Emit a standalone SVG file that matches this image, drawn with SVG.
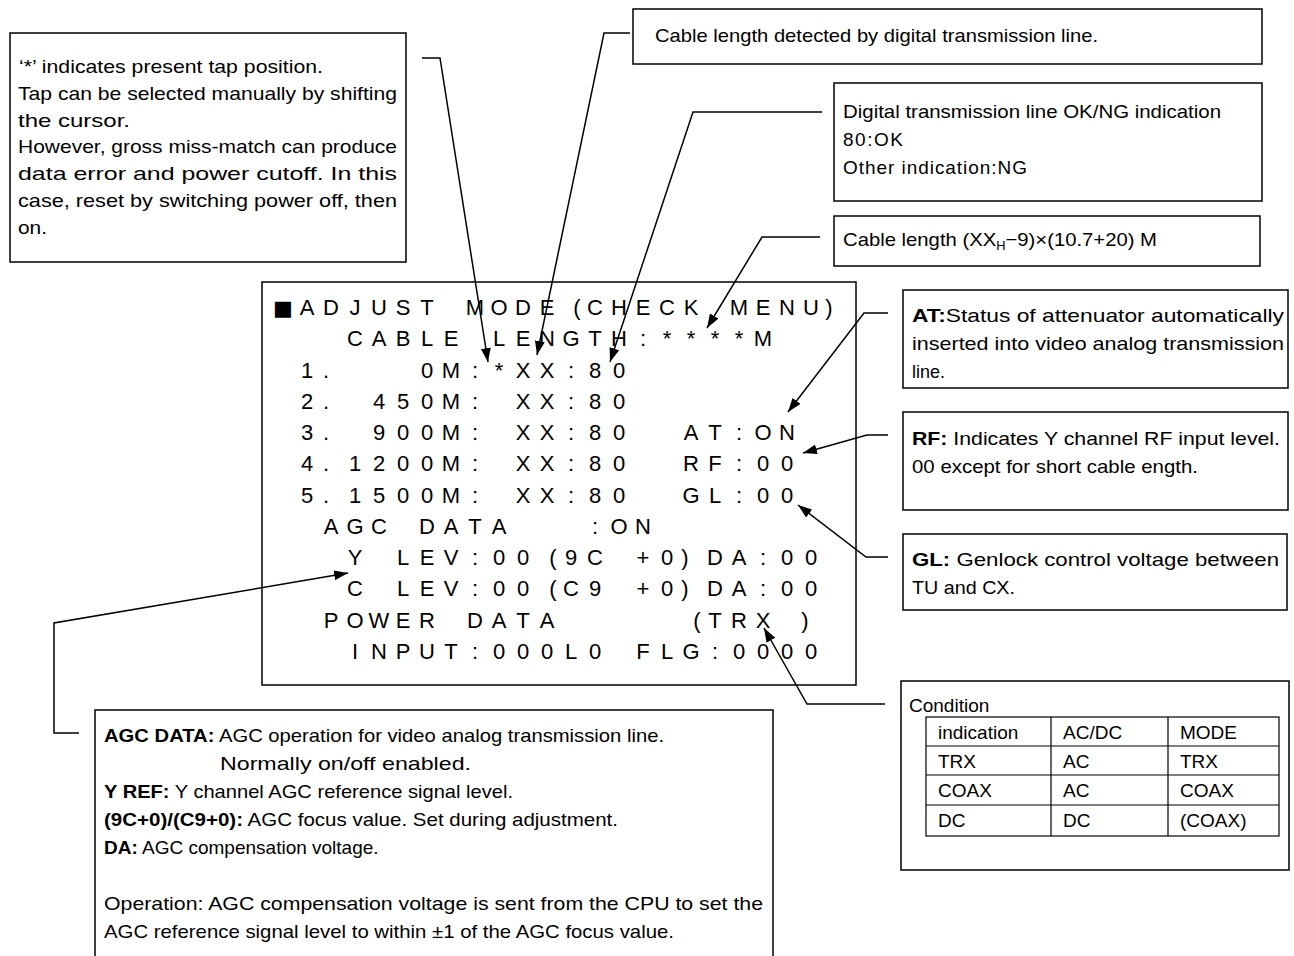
<svg xmlns="http://www.w3.org/2000/svg" width="1294" height="956" viewBox="0 0 1294 956">
<style>
.box{fill:none;stroke:#000;stroke-width:1.5}
.t{font-family:"Liberation Sans",Arial,"Noto Sans CJK JP",sans-serif;font-size:19px;fill:#000}
.b{font-weight:bold}
.scr{font-family:"Liberation Sans",Arial,sans-serif;font-size:22px;fill:#000;text-anchor:middle}
.sq{font-family:"DejaVu Sans",sans-serif;font-size:21px;fill:#000;text-anchor:middle}
.conn{fill:none;stroke:#000;stroke-width:1.5;marker-end:url(#ah)}
</style>
<defs>
<marker id="ah" markerUnits="userSpaceOnUse" markerWidth="15" markerHeight="11" refX="14" refY="5" orient="auto">
<path d="M0,0 L14,5 L0,10 Z" fill="#000"/>
</marker>
</defs>
<rect width="1294" height="956" fill="#fff"/>

<g id="note-tap">
<rect class="box" x="10" y="33" width="396" height="229"/>
<text class="t" x="19" y="73" textLength="304" lengthAdjust="spacingAndGlyphs">‘*’ indicates present tap position.</text>
<text class="t" x="18" y="100" textLength="379" lengthAdjust="spacingAndGlyphs">Tap can be selected manually by shifting</text>
<text class="t" x="18" y="127" textLength="112" lengthAdjust="spacingAndGlyphs">the cursor.</text>
<text class="t" x="18" y="153" textLength="379" lengthAdjust="spacingAndGlyphs">However, gross miss-match can produce</text>
<text class="t" x="18" y="180" textLength="379" lengthAdjust="spacingAndGlyphs">data error and power cutoff.  In this</text>
<text class="t" x="18" y="207" textLength="379" lengthAdjust="spacingAndGlyphs">case, reset by switching power off, then</text>
<text class="t" x="18" y="234" textLength="29" lengthAdjust="spacingAndGlyphs">on.</text>
</g>

<g id="note-cable-detected">
<rect class="box" x="633" y="9" width="629" height="55"/>
<text class="t" x="655" y="42" textLength="443" lengthAdjust="spacingAndGlyphs">Cable length detected by digital transmission line.</text>
</g>

<g id="note-okng">
<rect class="box" x="834" y="83" width="428" height="118"/>
<text class="t" x="843" y="118" textLength="378" lengthAdjust="spacingAndGlyphs">Digital transmission line OK/NG indication</text>
<text class="t" x="843" y="146" textLength="60" lengthAdjust="spacing">80:OK</text>
<text class="t" x="843" y="174" textLength="184" lengthAdjust="spacing">Other indication:NG</text>
</g>

<g id="note-cable-formula">
<rect class="box" x="834" y="216" width="426" height="50"/>
<text class="t" x="843" y="246" textLength="314" lengthAdjust="spacingAndGlyphs">Cable length (XX<tspan font-size="12" dy="4">H</tspan><tspan dy="-4">−9)×(10.7+20) M</tspan></text>
</g>

<g id="screen">
<rect class="box" x="262" y="282" width="594" height="403"/>
<text class="sq" x="283" y="315">■</text>
<text class="scr" y="315" x="307 331 355 379 403 427 475 499 523 547 577 595 619 643 667 691 739 763 787 811 829">ADJUSTMODE(CHECKMENU)</text>
<text class="scr" y="346" x="355 379 403 427 451 499 523 547 571 595 619 643 667 691 715 739 763">CABLELENGTH:****M</text>
<text class="scr" y="378" x="307 326 427 451 475 499 523 547 571 595 619">1.0M:*XX:80</text>
<text class="scr" y="409" x="307 326 379 403 427 451 475 523 547 571 595 619">2.450M:XX:80</text>
<text class="scr" y="440" x="307 326 379 403 427 451 475 523 547 571 595 619 691 715 739 763 787">3.900M:XX:80AT:ON</text>
<text class="scr" y="471" x="307 326 355 379 403 427 451 475 523 547 571 595 619 691 715 739 763 787">4.1200M:XX:80RF:00</text>
<text class="scr" y="503" x="307 326 355 379 403 427 451 475 523 547 571 595 619 691 715 739 763 787">5.1500M:XX:80GL:00</text>
<text class="scr" y="534" x="331 355 379 427 451 475 499 595 619 643">AGCDATA:ON</text>
<text class="scr" y="565" x="355 403 427 451 475 499 523 553 571 595 643 667 685 715 739 763 787 811">YLEV:00(9C+0)DA:00</text>
<text class="scr" y="596" x="355 403 427 451 475 499 523 553 571 595 643 667 685 715 739 763 787 811">CLEV:00(C9+0)DA:00</text>
<text class="scr" y="628" x="331 355 379 403 427 475 499 523 547 697 715 739 763 805">POWERDATA(TRX)</text>
<text class="scr" y="659" x="355 379 403 427 451 475 499 523 547 571 595 643 667 691 715 739 763 787 811">INPUT:000L0FLG:0000</text>
</g>

<g id="note-at">
<rect class="box" x="903" y="290" width="385" height="98"/>
<text class="t" x="912" y="322" textLength="372" lengthAdjust="spacingAndGlyphs"><tspan class="b">AT:</tspan>Status of attenuator automatically</text>
<text class="t" x="912" y="350" textLength="372" lengthAdjust="spacingAndGlyphs">inserted into video analog transmission</text>
<text class="t" x="912" y="378" textLength="33" lengthAdjust="spacingAndGlyphs">line.</text>
</g>

<g id="note-rf">
<rect class="box" x="903" y="412" width="385" height="98"/>
<text class="t" x="912" y="445" textLength="368" lengthAdjust="spacingAndGlyphs"><tspan class="b">RF:</tspan> Indicates Y channel RF input level.</text>
<text class="t" x="912" y="473" textLength="286" lengthAdjust="spacingAndGlyphs">00 except for short cable ength.</text>
</g>

<g id="note-gl">
<rect class="box" x="903" y="534" width="384" height="76"/>
<text class="t" x="912" y="566" textLength="367" lengthAdjust="spacingAndGlyphs"><tspan class="b">GL:</tspan> Genlock control voltage between</text>
<text class="t" x="912" y="594" textLength="103" lengthAdjust="spacingAndGlyphs">TU and CX.</text>
</g>

<g id="note-condition">
<rect class="box" x="901" y="681" width="388" height="189"/>
<text class="t" x="909" y="712">Condition</text>
<g fill="none" stroke="#000" stroke-width="1.2">
<rect x="926" y="717" width="353" height="119"/>
<line x1="1051" y1="717" x2="1051" y2="836"/>
<line x1="1168" y1="717" x2="1168" y2="836"/>
<line x1="926" y1="746" x2="1279" y2="746"/>
<line x1="926" y1="775" x2="1279" y2="775"/>
<line x1="926" y1="805" x2="1279" y2="805"/>
</g>
<text class="t" x="938" y="739">indication</text>
<text class="t" x="1063" y="739">AC/DC</text>
<text class="t" x="1180" y="739">MODE</text>
<text class="t" x="938" y="768">TRX</text>
<text class="t" x="1063" y="768">AC</text>
<text class="t" x="1180" y="768">TRX</text>
<text class="t" x="938" y="797">COAX</text>
<text class="t" x="1063" y="797">AC</text>
<text class="t" x="1180" y="797">COAX</text>
<text class="t" x="938" y="827">DC</text>
<text class="t" x="1063" y="827">DC</text>
<text class="t" x="1180" y="827">(COAX)</text>
</g>

<g id="note-agc">
<rect class="box" x="95" y="710" width="678" height="270"/>
<text class="t" x="104" y="742" textLength="560" lengthAdjust="spacingAndGlyphs"><tspan class="b">AGC DATA:</tspan> AGC operation for video analog transmission line.</text>
<text class="t" x="220" y="770" textLength="251" lengthAdjust="spacingAndGlyphs">Normally on/off enabled.</text>
<text class="t" x="104" y="798" textLength="409" lengthAdjust="spacingAndGlyphs"><tspan class="b">Y REF:</tspan> Y channel AGC reference signal level.</text>
<text class="t" x="104" y="826" textLength="514" lengthAdjust="spacingAndGlyphs"><tspan class="b">(9C+0)/(C9+0):</tspan> AGC focus value. Set during adjustment.</text>
<text class="t" x="104" y="854"><tspan class="b">DA:</tspan> AGC compensation voltage.</text>
<text class="t" x="104" y="910" textLength="659" lengthAdjust="spacingAndGlyphs">Operation: AGC compensation voltage is sent from the CPU to set the</text>
<text class="t" x="104" y="938" textLength="570" lengthAdjust="spacingAndGlyphs">AGC reference signal level to within ±1 of the AGC focus value.</text>
</g>

<g id="connectors">
<path class="conn" d="M422,58 H440 L488,362"/>
<path class="conn" d="M630,33 H604 L537,355"/>
<path class="conn" d="M822,112 H693 L610,362"/>
<path class="conn" d="M820,237 H762 L707,328"/>
<path class="conn" d="M888,313 H864 L788,412"/>
<path class="conn" d="M888,435 H867 L803,453"/>
<path class="conn" d="M888,557 H866 L798,505"/>
<path class="conn" d="M885,704 H807 L764,628"/>
<path class="conn" d="M79,733 H54 V623 L348,573"/>
</g>
</svg>
